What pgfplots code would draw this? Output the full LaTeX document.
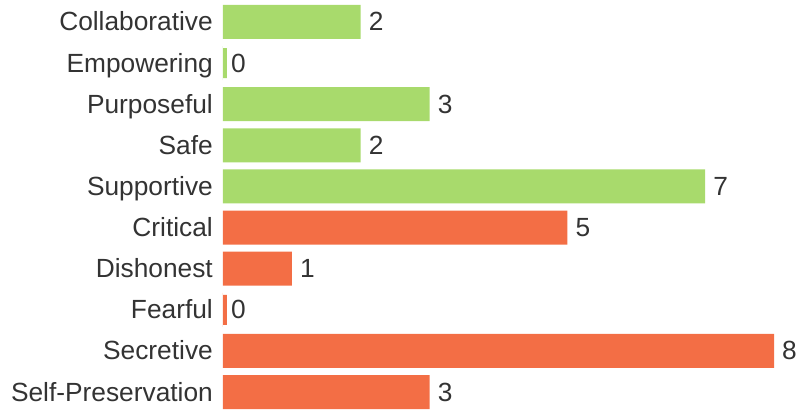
\documentclass[border=0pt]{standalone}
\usepackage{pgfplots}
\pgfplotsset{compat=1.18}
\usepackage{fontspec}
\setmainfont{Liberation Sans}
\definecolor{barG}{HTML}{A8DA6C}
\definecolor{barO}{HTML}{F36E45}
\definecolor{txt}{HTML}{333333}
\begin{document}
\begin{tikzpicture}
\begin{axis}[
  scale only axis,
  width=551bp, height=409bp,
  xmin=0, xmax=8,
  ymin=-0.535, ymax=9.413,
  y dir=reverse,
  axis line style={draw=none},
  xtick=\empty,
  ytick={0,...,9},
  yticklabels={Collaborative,Empowering,Purposeful,Safe,Supportive,Critical,Dishonest,Fearful,Secretive,Self-Preservation},
  major tick length=0pt,
  yticklabel style={font=\fontsize{26.4}{30}\selectfont, text=txt, inner sep=0pt, anchor=base east, xshift=-10bp, yshift=-9bp},
  /pgf/number format/assume math mode=true,
  xbar, bar width=34bp, bar shift=0pt,
  clip=false,
  nodes near coords,
  every node near coord/.append style={anchor=base west, inner sep=0pt, xshift=8bp, yshift=-9bp, font=\fontsize{26.4}{30}\selectfont, text=txt},
]
\addplot[fill=barG, draw=none] coordinates {(2,0) (0,1) (3,2) (2,3) (7,4)};
\addplot[fill=barO, draw=none] coordinates {(5,5) (1,6) (0,7) (8,8) (3,9)};
\addplot[draw=barG, fill=barG, line width=4bp, bar width=30bp, xshift=2bp, nodes near coords=\empty] coordinates {(0,1)};
\addplot[draw=barO, fill=barO, line width=4bp, bar width=30bp, xshift=2bp, nodes near coords=\empty] coordinates {(0,7)};
\end{axis}
\pgfresetboundingbox
\path[use as bounding box] ([xshift=-223bp]current axis.south west) rectangle ([xshift=27bp]current axis.north east);
\end{tikzpicture}
\end{document}
